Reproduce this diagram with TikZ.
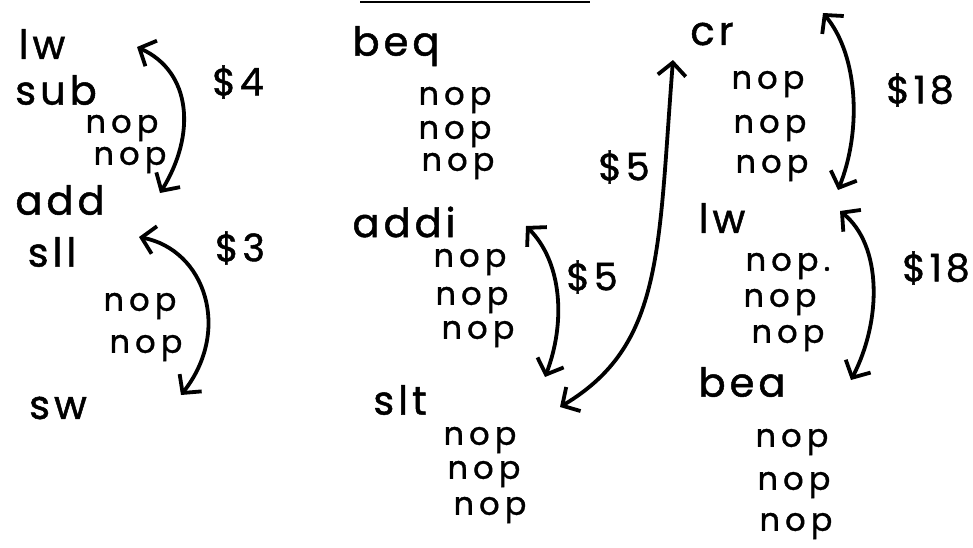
\documentclass[tikz,border=0pt]{standalone}
\usepackage{fontspec}
\setmainfont{Poppins}[LetterSpace=10, FakeBold=1.2]
\newfontfamily\nopfont{Poppins}[LetterSpace=16, FakeBold=1.2]
\usetikzlibrary{arrows.meta}

\tikzset{
  instr/.style={font=\fontsize{40}{44}\selectfont, inner sep=0pt, anchor=center},
  nopline/.style={font=\nopfont\fontsize{32}{34}\selectfont, inner sep=0pt, anchor=center},
  reg/.style={font=\fontsize{38}{42}\selectfont, inner sep=0pt, anchor=center},
  dep/.style={line width=3.8pt, line cap=round,
    {Straight Barb[length=13pt,width=28pt,line width=3.8pt]}-{Straight Barb[length=13pt,width=28pt,line width=3.8pt]}},
}

\begin{document}
\begin{tikzpicture}[x=1pt,y=-1pt]
\useasboundingbox (0,0) rectangle (973,547);

% heading underline
\draw[line width=2pt] (360,2) coordinate (ulA) -- (590,2) coordinate (ulB);

% ---- first block ----
\node[instr] (lwA)  at (42,44)  {lw};
\node[instr] (subA) at (56,90)  {sub};
\node[nopline] (nA1) at (122,128) {nop};
\node[nopline] (nA2) at (130,160) {nop};
\node[instr] (addA) at (60,200) {add};
\node[instr] (sllA) at (52,252) {sll};
\node[nopline] (nA3) at (140,306) {nop};
\node[nopline] (nA4) at (146,348) {nop};
\node[instr] (swA)  at (58,408) {sw};

\node[reg] (r4) at (238,82)  {\$4};
\node[reg] (r3) at (240,248) {\$3};

\coordinate (d4a) at (137,47);
\coordinate (d4b) at (160,193);
\coordinate (d3a) at (139,237);
\coordinate (d3b) at (181,395);
\draw[dep] (d4b) .. controls (196,135) and (192,72) .. (d4a);
\draw[dep] (d3a) .. controls (205,250) and (232,330) .. (d3b);

% ---- second block ----
\node[instr] (beqB)  at (396,46)  {beq};
\node[nopline] (nB1) at (455,100) {nop};
\node[nopline] (nB2) at (455,134) {nop};
\node[nopline] (nB3) at (458,166) {nop};
\node[instr] (addiB) at (404,222) {addi};
\node[nopline] (nB4) at (470,262) {nop};
\node[nopline] (nB5) at (472,300) {nop};
\node[nopline] (nB6) at (478,334) {nop};
\node[instr] (sltB)  at (400,400) {slt};
\node[nopline] (nB7) at (480,440) {nop};
\node[nopline] (nB8) at (484,474) {nop};
\node[nopline] (nB9) at (490,510) {nop};

\node[reg] (r5a) at (592,277) {\$5};
\node[reg] (r5b) at (624,167) {\$5};

\coordinate (d5a) at (526,226);
\coordinate (d5b) at (545,377);
\coordinate (d5c) at (673,60);
\coordinate (d5d) at (560,407);
\draw[dep] (d5a) .. controls (562,262) and (566,322) .. (d5b);
\draw[dep] (d5c) .. controls (658,250) and (664,345) .. (d5d);

% ---- third block ----
\node[instr] (crC)  at (712,34)  {cr};
\node[nopline] (nC1) at (768,84)  {nop};
\node[nopline] (nC2) at (770,128) {nop};
\node[nopline] (nC3) at (772,168) {nop};
\node[instr] (lwC)  at (722,218) {lw};
\node[nopline] (nC4) at (788,266) {nop.};
\node[nopline] (nC5) at (780,302) {nop};
\node[nopline] (nC6) at (788,338) {nop};
\node[instr] (beaC) at (742,382) {bea};
\node[nopline] (nC7) at (792,442) {nop};
\node[nopline] (nC8) at (794,485) {nop};
\node[nopline] (nC9) at (796,526) {nop};

\node[reg] (r18a) at (920,90)  {\$18};
\node[reg] (r18b) at (936,268) {\$18};

\coordinate (d18a) at (823,13);
\coordinate (d18b) at (838,190);
\coordinate (d18c) at (840,211);
\coordinate (d18d) at (851,380);
\draw[dep] (d18a) .. controls (858,55) and (862,130) .. (d18b);
\draw[dep] (d18c) .. controls (882,245) and (882,320) .. (d18d);
\end{tikzpicture}
\end{document}
